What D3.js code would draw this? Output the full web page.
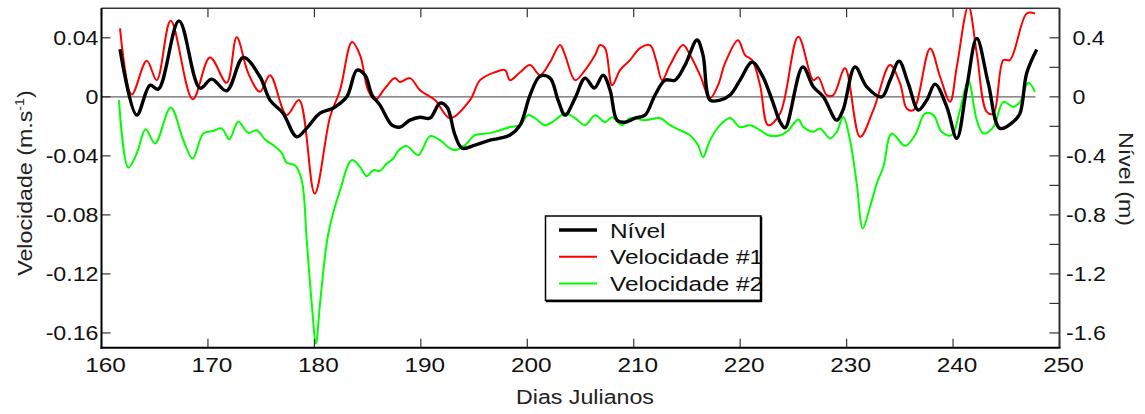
<!DOCTYPE html>
<html><head><meta charset="utf-8">
<script src="https://cdn.jsdelivr.net/npm/d3@7"></script>
<style>body{margin:0;background:#fff}svg{display:block}</style>
</head><body>
<svg id="c" width="1145" height="414"></svg>
<script>
// ---------- data ----------
const xTicks = [160,170,180,190,200,210,220,230,240,250];
const yLeftTicks = [0.04,0,-0.04,-0.08,-0.12,-0.16];
const yRightTicks = [0.4,0.2,0,-0.2,-0.4,-0.6,-0.8,-1.0,-1.2,-1.4,-1.6];
const yRightLabels = [0.4,0,-0.4,-0.8,-1.2,-1.6];
const seriesNames = ["Nível","Velocidade #1","Velocidade #2"];

const nivelDays = [161.74,163.31,164.56,165.34,167.28,169.25,170.35,171.76,173.32,174.89,175.83,177.05,178.34,179.28,180.53,181.75,183.04,184.00,184.76,185.41,186.16,187.29,188.04,188.98,189.92,190.86,191.80,192.46,193.21,193.87,195.09,196.50,197.44,198.38,199.32,200.26,201.20,202.14,202.89,203.55,204.49,205.43,206.30,207.12,207.78,208.43,209.18,210.12,211.06,212.00,212.94,213.88,214.82,215.95,216.51,217.17,218.11,219.05,219.99,221.12,222.06,223.00,223.75,224.22,225.88,226.87,227.81,229.07,229.66,230.79,231.89,233.30,234.08,234.93,235.78,236.74,237.53,238.31,239.41,240.35,241.29,242.23,243.31,244.41,245.66,246.29,246.92,247.86];
const nivel = [0.323,-0.124,0.079,0.052,0.515,0.059,0.120,0.041,0.267,0.136,-0.022,-0.111,-0.271,-0.212,-0.111,-0.077,0,0.181,0.147,0.012,-0.056,-0.192,-0.205,-0.158,-0.138,-0.144,-0.043,-0.070,-0.259,-0.348,-0.327,-0.294,-0.280,-0.259,-0.192,0.012,0.140,0.127,-0.022,-0.124,-0.009,0.127,0.060,0.147,0.045,-0.158,-0.172,-0.144,-0.124,0.012,0.113,0.113,0.215,0.385,0.283,-0.022,-0.022,0.012,0.113,0.235,0.147,-0.022,-0.169,-0.210,0.203,0.068,0,-0.158,-0.090,0.203,0.068,0,0.113,0.242,0.093,-0.090,-0.022,0.086,-0.068,-0.282,0.068,0.396,0.091,-0.214,-0.169,-0.111,0.161,0.321];

const vel1Days = [161.74,162.84,164.25,165.19,166.50,168.57,170.19,171.76,172.70,173.79,174.89,175.83,177.40,178.55,180.03,181.47,182.41,183.53,184.29,185.04,185.70,186.64,187.57,188.04,188.98,189.92,191.33,192.74,194.62,195.56,196.97,197.91,198.38,199.32,200.26,201.20,202.14,203.08,203.55,204.49,205.43,206.37,206.84,207.31,207.97,208.72,209.65,210.59,211.53,212.10,212.66,213.41,214.63,215.29,216.23,217.17,217.92,218.58,219.80,220.46,221.12,221.87,222.63,223.75,225.46,226.87,227.34,228.13,228.75,229.85,231.26,232.51,234.08,235.02,235.65,236.27,237.84,238.78,239.72,240.35,241.44,242.23,243.17,243.79,244.73,245.35,246.92,247.70];
const vel1 = [0.0464,0.0016,0.0244,0.0113,0.0515,-0.0016,0.0267,0.0095,0.0403,0.0159,0.0034,0.0147,-0.0124,-0.0022,-0.0655,-0.0136,0.0045,0.0371,0.0283,0.0045,-0.0022,0.0059,0.0127,0.0100,0.0127,0.0045,-0.0022,-0.0145,-0.0022,0.0113,0.0167,0.0181,0.0113,0.0167,0.0215,0.0147,0.0235,0.0351,0.0283,0.0113,0.0181,0.0283,0.0351,0.0330,0.0079,0.0181,0.0249,0.0330,0.0351,0.0249,0.0113,0.0215,0.0351,0.0283,0.0147,-0.0009,0.0079,0.0228,0.0384,0.0283,0.0249,0.0079,-0.0192,-0.0113,0.0407,0.0113,0.0132,0.0012,0.0012,0.0193,-0.0271,-0.0090,0.0215,0.0091,-0.0079,-0.0090,0.0328,0.0136,-0.0034,0.0203,0.0615,0.0294,-0.0102,-0.0113,0.0249,0.0249,0.0565,0.0565];

const vel2Days = [161.64,162.52,163.31,164.15,165.03,166.50,167.69,168.57,169.56,170.50,171.29,172.01,172.85,173.79,174.58,175.36,176.14,176.93,177.40,178.18,178.81,179.28,179.75,180.15,180.53,181.31,182.41,183.51,184.29,184.92,185.54,186.16,186.80,187.41,187.88,188.67,189.76,190.86,191.80,192.74,193.21,194.15,195.09,196.50,197.44,198.38,199.32,200.07,200.73,201.67,202.61,203.55,204.49,205.43,206.37,207.31,207.97,208.90,209.65,211.06,212.47,213.41,214.35,215.29,216.04,216.51,217.17,218.11,219.05,219.99,220.93,221.87,222.63,223.75,224.53,225.46,225.93,226.87,227.50,228.44,229.07,229.69,230.32,230.95,231.52,232.20,232.83,233.45,234.24,235.49,236.43,237.37,238.15,238.93,239.87,240.65,241.44,242.23,242.85,243.79,244.73,245.66,246.29,247.07,247.70];
const vel2 = [-0.0022,-0.0479,-0.0384,-0.0219,-0.0316,-0.0072,-0.0294,-0.0418,-0.0248,-0.0231,-0.0214,-0.0287,-0.0169,-0.0244,-0.0226,-0.0289,-0.0327,-0.0380,-0.0447,-0.0463,-0.0565,-0.0972,-0.1401,-0.1672,-0.1401,-0.0926,-0.0633,-0.0429,-0.0475,-0.0538,-0.0497,-0.0502,-0.0452,-0.0418,-0.0366,-0.0334,-0.0395,-0.0266,-0.0294,-0.0350,-0.0361,-0.0327,-0.0260,-0.0246,-0.0226,-0.0205,-0.0192,-0.0124,-0.0144,-0.0192,-0.0158,-0.0111,-0.0144,-0.0192,-0.0124,-0.0172,-0.0138,-0.0192,-0.0144,-0.0158,-0.0144,-0.0192,-0.0226,-0.0260,-0.0327,-0.0409,-0.0294,-0.0192,-0.0144,-0.0205,-0.0192,-0.0226,-0.0260,-0.0260,-0.0226,-0.0153,-0.0203,-0.0237,-0.0214,-0.0282,-0.0237,-0.0136,-0.0294,-0.0587,-0.0892,-0.0746,-0.0587,-0.0475,-0.0248,-0.0332,-0.0260,-0.0113,-0.0124,-0.0237,-0.0260,-0.0090,0.0108,-0.0158,-0.0248,-0.0203,-0.0034,-0.0068,-0.0034,0.0095,0.0034];

// ---------- layout ----------
const L = 101.5, R = 1059.5, T = 8.3, B = 347.7;
const SX = 1.19; // horizontal stretch of glyphs
const FONT = "'Liberation Sans', Arial, sans-serif";
const svg = d3.select("#c");
const x = d3.scaleLinear().domain([160,250]).range([L,R]);
const yL = d3.scaleLinear().domain([-0.17,0.06]).range([B,T]);
const yR = d3.scaleLinear().domain([-1.7,0.6]).range([B,T]);

function label(px, py, str, anchor, size, rot, color){
  const g = svg.append("g").attr("transform", `translate(${px},${py}) rotate(${rot||0}) scale(${SX},1)`);
  const t = g.append("text").attr("text-anchor", anchor).attr("font-family", FONT)
    .attr("font-size", size).attr("fill", color || "#111").text(str);
  return t;
}

const fmt = v => (v === 0 ? "0" : String(v));

// clip
svg.append("clipPath").attr("id","clip").append("rect")
  .attr("x",L).attr("y",T).attr("width",R-L).attr("height",B-T);

// zero line
svg.append("line").attr("x1",x(160)).attr("x2",x(247.75))
  .attr("y1",yL(0)).attr("y2",yL(0)).attr("stroke","#666").attr("stroke-width",1.2);

// series
const lineGen = d3.line().curve(d3.curveCatmullRom.alpha(0.5));
const plot = svg.append("g").attr("clip-path","url(#clip)");
plot.append("path").attr("d", lineGen(vel2Days.map((d,i)=>[x(d), yL(vel2[i])])))
  .attr("fill","none").attr("stroke","#00ff00").attr("stroke-width",2);
plot.append("path").attr("d", lineGen(vel1Days.map((d,i)=>[x(d), yL(vel1[i])])))
  .attr("fill","none").attr("stroke","#ff0000").attr("stroke-width",2);
plot.append("path").attr("d", lineGen(nivelDays.map((d,i)=>[x(d), yR(nivel[i])])))
  .attr("fill","none").attr("stroke","#000").attr("stroke-width",3.4).attr("stroke-linejoin","round");

// ticks
const tk = svg.append("g").attr("stroke","#333").attr("stroke-width",1.2);
xTicks.forEach(v=>{
  tk.append("line").attr("x1",x(v)).attr("x2",x(v)).attr("y1",B).attr("y2",B-9);
  tk.append("line").attr("x1",x(v)).attr("x2",x(v)).attr("y1",T).attr("y2",T+9);
});
yLeftTicks.forEach(v=>{
  tk.append("line").attr("x1",L).attr("x2",L+9).attr("y1",yL(v)).attr("y2",yL(v));
});
yRightTicks.forEach(v=>{
  tk.append("line").attr("x1",R).attr("x2",R-10).attr("y1",yR(v)).attr("y2",yR(v));
});

// frame
svg.append("line").attr("x1",L).attr("x2",R).attr("y1",T).attr("y2",T).attr("stroke","#333").attr("stroke-width",1.5);
svg.append("line").attr("x1",R).attr("x2",R).attr("y1",T).attr("y2",B).attr("stroke","#333").attr("stroke-width",2);
svg.append("line").attr("x1",L).attr("x2",L).attr("y1",T).attr("y2",B+1).attr("stroke","#000").attr("stroke-width",2);
svg.append("line").attr("x1",L-1).attr("x2",R+1).attr("y1",B).attr("y2",B).attr("stroke","#000").attr("stroke-width",2);

// tick labels
xTicks.forEach(v=> label(x(v)+4, 372, String(v), "middle", 20.5));
yLeftTicks.forEach(v=> label(98.5, yL(v)+7, fmt(v), "end", 19.5));
yRightLabels.forEach(v=> label(v<0 ? 1066 : 1072.5, yR(v)+7, fmt(+v.toFixed(1)), "start", 19.5));

// axis titles
label(585, 404, "Dias Julianos", "middle", 19.5, 0, "#222");
const lt = label(31.5, 183, "", "middle", 19.5, -90, "#222");
lt.append("tspan").text("Velocidade (m.s");
lt.append("tspan").attr("font-size",12).attr("dy",-8).text("-1");
lt.append("tspan").attr("dy",8).text(")");
label(1119, 179, "Nível (m)", "middle", 19.5, 90, "#222");

// legend
const lg = svg.append("g");
lg.append("rect").attr("x",545.5).attr("y",216).attr("width",215.5).attr("height",84.5)
  .attr("fill","#fff").attr("stroke","#000").attr("stroke-width",1.5);
lg.append("line").attr("x1",761).attr("x2",761).attr("y1",217).attr("y2",301.5).attr("stroke","#000").attr("stroke-width",2.5);
lg.append("line").attr("x1",546).attr("x2",762).attr("y1",301).attr("y2",301).attr("stroke","#000").attr("stroke-width",2.5);
const legColors = ["#000","#ff0000","#00ff00"];
const legWidths = [3.4,2,2];
seriesNames.forEach((n,i)=>{
  const yy = 230 + i*26.7;
  lg.append("line").attr("x1",559).attr("x2",597).attr("y1",yy).attr("y2",yy)
    .attr("stroke",legColors[i]).attr("stroke-width",legWidths[i]);
  label(610, yy+7.5, n, "start", 20.5, 0, "#111");
});
</script>
</body></html>
